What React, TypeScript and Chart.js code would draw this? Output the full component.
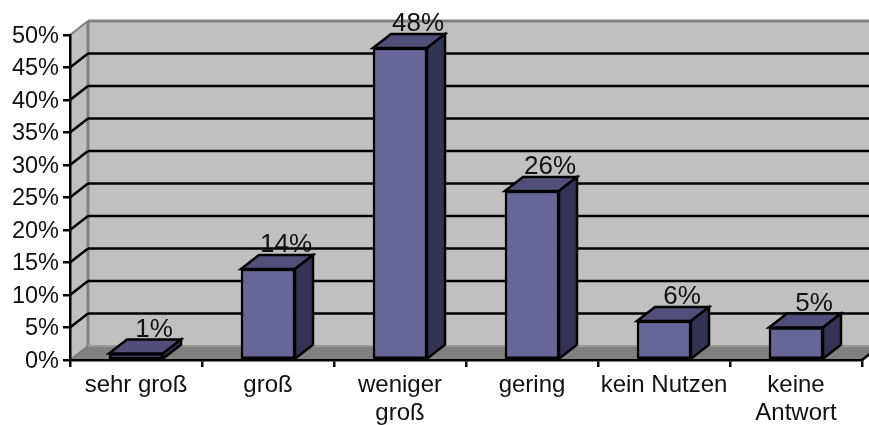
import React, { useEffect, useRef } from "react";
import { Chart, registerables } from "chart.js";

Chart.register(...registerables);

const categories = [
  "sehr groß",
  "groß",
  ["weniger", "groß"],
  "gering",
  "kein Nutzen",
  ["keine", "Antwort"],
];
const shares = [1, 14, 48, 26, 6, 5];

const FONT = "'Liberation Sans', Arial, sans-serif";
const INK = "#000";
const STROKE = 2.5;
const DEPTH_X = 18;
const DEPTH_Y = 14;

// Side wall, back wall, floor and the receding gridlines behind the bars.
const roomPlugin = {
  id: "room",
  beforeDraw(chart: any) {
    const { ctx, chartArea: a, scales } = chart;
    const y = scales.y;
    const poly = (pts: number[][], fill: string) => {
      ctx.beginPath();
      pts.forEach(([px, py], i) => (i ? ctx.lineTo(px, py) : ctx.moveTo(px, py)));
      ctx.closePath();
      ctx.fillStyle = fill;
      ctx.fill();
    };
    const line = (x1: number, y1: number, x2: number, y2: number, color: string, w = STROKE) => {
      ctx.beginPath();
      ctx.moveTo(x1, y1);
      ctx.lineTo(x2, y2);
      ctx.strokeStyle = color;
      ctx.lineWidth = w;
      ctx.stroke();
    };
    ctx.save();
    const top = a.top;
    const bottom = a.bottom;
    const bx = a.left + DEPTH_X;
    const farRight = a.right + DEPTH_X;
    poly([[bx, top - DEPTH_Y], [farRight, top - DEPTH_Y], [farRight, bottom - DEPTH_Y], [bx, bottom - DEPTH_Y]], "#c0c0c0");
    poly([[a.left, top], [bx, top - DEPTH_Y], [bx, bottom - DEPTH_Y], [a.left, bottom]], "#c0c0c0");
    poly([[a.left, bottom], [bx, bottom - DEPTH_Y], [farRight, bottom - DEPTH_Y], [a.right, bottom]], "#808080");

    line(bx, top - DEPTH_Y, farRight, top - DEPTH_Y, "#808080", 3);
    line(bx, top - DEPTH_Y, bx, bottom - DEPTH_Y, "#808080", 3);
    line(a.left, top, bx, top - DEPTH_Y, "#808080", 2);
    line(a.left, bottom, bx, bottom - DEPTH_Y, "#808080", 2);
    line(bx, bottom - DEPTH_Y, farRight, bottom - DEPTH_Y, "#999999", 2);

    y.ticks.forEach((t: any) => {
      if (t.value === y.min || t.value === y.max) return;
      const py = y.getPixelForValue(t.value);
      line(a.left, py, bx, py - DEPTH_Y, INK);
      line(bx, py - DEPTH_Y, farRight, py - DEPTH_Y, INK);
    });
    ctx.restore();
  },
  afterDraw(chart: any) {
    // Floor edge continuing from the last tick toward the back right corner.
    const { ctx, chartArea: a } = chart;
    ctx.save();
    ctx.beginPath();
    ctx.moveTo(a.right, a.bottom);
    ctx.lineTo(a.right + DEPTH_X, a.bottom - DEPTH_Y);
    ctx.strokeStyle = INK;
    ctx.lineWidth = STROKE;
    ctx.stroke();
    ctx.restore();
  },
};

// Top and side faces of each column, then its percentage label.
const columnPlugin = {
  id: "columns",
  afterDatasetsDraw(chart: any) {
    const { ctx } = chart;
    const meta = chart.getDatasetMeta(0);
    const face = (pts: number[][], fill: string) => {
      ctx.beginPath();
      pts.forEach(([px, py], i) => (i ? ctx.lineTo(px, py) : ctx.moveTo(px, py)));
      ctx.closePath();
      ctx.fillStyle = fill;
      ctx.fill();
      ctx.strokeStyle = INK;
      ctx.lineWidth = STROKE;
      ctx.lineJoin = "miter";
      ctx.stroke();
    };
    ctx.save();
    meta.data.forEach((bar: any) => {
      const half = bar.width / 2;
      const l = bar.x - half;
      const r = bar.x + half;
      const t = bar.y;
      const b = bar.base;
      face([[l, t], [l + DEPTH_X, t - DEPTH_Y], [r + DEPTH_X, t - DEPTH_Y], [r, t]], "#4f4f7a");
      face([[r, t], [r + DEPTH_X, t - DEPTH_Y], [r + DEPTH_X, b - DEPTH_Y], [r, b]], "#333355");
    });
    ctx.fillStyle = "#111";
    ctx.font = `26px ${FONT}`;
    ctx.textAlign = "center";
    ctx.textBaseline = "alphabetic";
    meta.data.forEach((bar: any, i: number) => {
      ctx.fillText(`${shares[i]}%`, bar.x + DEPTH_X, bar.y - 17);
    });
    ctx.restore();
  },
};

export default function App() {
  const ref = useRef<HTMLCanvasElement>(null);

  useEffect(() => {
    const chart = new Chart(ref.current!, {
      type: "bar",
      data: {
        labels: categories as any,
        datasets: [
          {
            data: shares,
            backgroundColor: "#666699",
            borderColor: INK,
            borderWidth: STROKE,
            borderSkipped: false,
            barThickness: 54,
          },
        ],
      },
      plugins: [roomPlugin, columnPlugin],
      options: {
        responsive: false,
        animation: false,
        layout: { padding: { top: 35, right: 7, left: 0, bottom: 0 } },
        plugins: { legend: { display: false }, tooltip: { enabled: false } },
        scales: {
          x: {
            offset: true,
            afterFit: (s: any) => {
              s.height = 65;
            },
            grid: {
              offset: true,
              drawOnChartArea: false,
              color: INK,
              lineWidth: STROKE,
              tickLength: 7,
            },
            border: { color: INK, width: STROKE },
            ticks: {
              color: "#111",
              font: { family: FONT, size: 24, lineHeight: 1.17 },
              padding: 4,
              maxRotation: 0,
              autoSkip: false,
            },
          },
          y: {
            min: 0,
            max: 50,
            afterFit: (s: any) => {
              s.width = 70;
            },
            grid: {
              drawOnChartArea: false,
              color: INK,
              lineWidth: STROKE,
              tickLength: 7,
            },
            border: { color: INK, width: STROKE },
            ticks: {
              stepSize: 5,
              color: "#111",
              font: { family: FONT, size: 23.5 },
              padding: 4,
              labelOffset: 1.5,
              callback: (v: any) => `${v}%`,
            },
          },
        },
      } as any,
    });
    return () => chart.destroy();
  }, []);

  return (
    <div style={{ position: "fixed", left: 0, top: 0, width: 869, height: 425, overflow: "hidden", background: "#fff" }}>
      <canvas ref={ref} width={869} height={425} style={{ display: "block" }} />
    </div>
  );
}
